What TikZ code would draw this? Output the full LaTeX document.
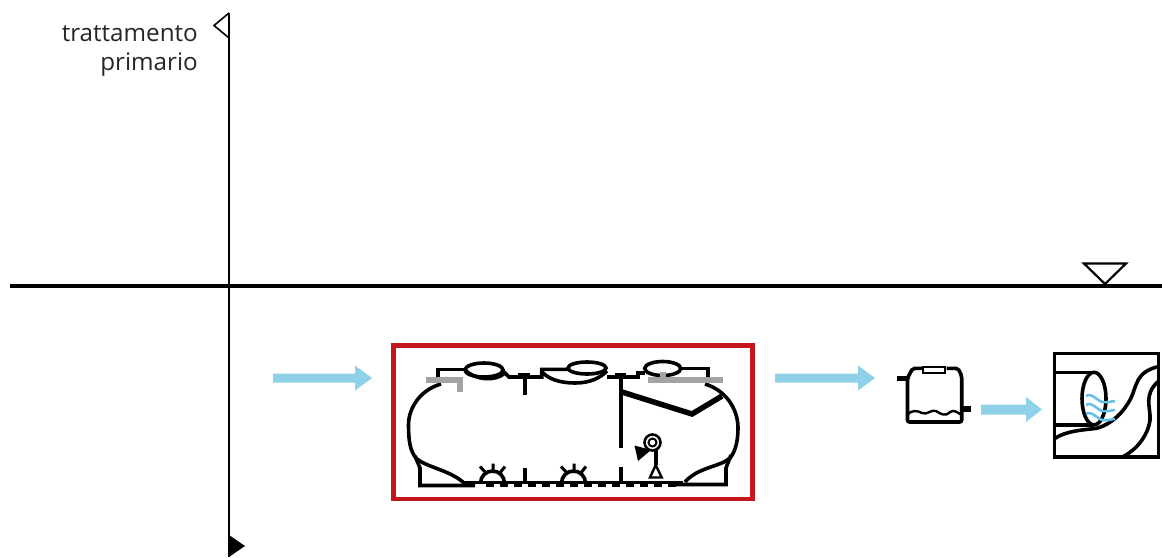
\documentclass[tikz,border=0pt]{standalone}
\usepackage{fontspec}
\setmainfont{Open Sans}
\usetikzlibrary{arrows.meta}
\definecolor{flow}{HTML}{8ED1E8}
\definecolor{rippleblue}{HTML}{62C0E4}
\definecolor{frame}{HTML}{C4161C}
\definecolor{steel}{HTML}{A3A3A3}
\tikzset{
  ink/.style={draw=black,line width=3.6pt,line join=miter},
  axis/.style={draw=black,line width=1.6pt},
  greybar/.style={draw=steel,line width=6pt},
  flowarrow/.style={fill=flow,draw=none},
  ripple/.style={draw=rippleblue,line width=2.5pt},
  label/.style={align=right,anchor=north east,inner sep=0pt,font=\fontsize{24.2}{29}\selectfont,text=black!85}
}
\newcommand{\flowshape}[5]{% x0 xneck xtip y halfthick
  \fill[flowarrow] (#1,#4-#5)--(#2,#4-#5)--(#2,#4-12.5)--(#3,#4)--(#2,#4+12.5)--(#2,#4+#5)--(#1,#4+#5)--cycle;}
\begin{document}
\begin{tikzpicture}[x=1pt,y=-1pt]
\useasboundingbox (0,0) rectangle (1162,557);
\fill[white] (0,0) rectangle (1162,557);
% axes
\draw[axis] (229,13)--(229,557);
\draw[axis,line join=miter] (229,13)--(214,25.5)--(229,38);
\fill[black] (229,535)--(245,546)--(229,557)--cycle;
\draw[draw=black,line width=3.2pt] (10,286)--(1162,286);
\draw[draw=black,line width=2.2pt] (1084,263.5)--(1126,263.5)--(1105,284)--cycle;
\node[label] (title) at (198,25) {trattamento\\primario};
% flow arrows
\flowshape{273}{355}{372}{378}{4.5}
\flowshape{775}{858}{875}{378}{4.5}
\flowshape{981}{1026}{1042}{409.5}{5}
% red frame
\draw[draw=frame,line width=4.5pt] (393.5,345.5) rectangle (752.5,499);
% tank
\draw[ink] (437.7,378)--(437.7,369.3)--(466,369.3);
\draw[ink] (484,370) ellipse (19 and 7);
\draw[ink] (465,370) .. controls (475,380) and (495,382) .. (505,373) -- (509,377) -- (541.7,377) -- (541.7,369.3) -- (568,369.3);
\draw[ink] (541.7,371.5) .. controls (548,379) and (560,383) .. (575,383) .. controls (590,383) and (600,378) .. (607,371);
\draw[ink] (587,368) ellipse (19 and 6);
\draw[ink] (607,377)--(638,377)--(638,373)--(645,373);
\draw[ink] (662.7,368.5) ellipse (18 and 7);
\draw[ink] (681,368.5)--(708,368.5)--(708,378);
% baffles
\fill[black] (518,373) rectangle (530,379);
\fill[black] (615,373) rectangle (626,379);
\draw[ink] (525,373)--(525,395);
\draw[ink] (525,468)--(525,484);
\draw[ink] (620.7,373)--(620.7,448);
\draw[ink] (620.7,467)--(620.7,484);
% shell
\draw[ink] (441,384) .. controls (420,390) and (408.5,408) .. (408.5,425) .. controls (408.5,440) and (410,451) .. (416,458) .. controls (425,467) and (450,470) .. (464,483);
\draw[ink] (415,456)--(420,468)--(420,485.5)--(475,485.5);
\draw[ink] (705,384) .. controls (725,390) and (738,408) .. (738,428) .. controls (738,442) and (735,452) .. (730,458) .. controls (720,467) and (698,467) .. (685,482);
\draw[ink] (731,455)--(726,468)--(726,484.5)--(670,484.5);
% bottom
\draw[ink] (462,482.5)--(683,482.5);
\draw[draw=black,line width=3pt,dash pattern=on 8pt off 6pt] (486,485.5)--(680,485.5);
% domes
\draw[ink] (480.5,483) arc (180:360:12);
\draw[ink] (561.5,483) arc (180:360:12);
\draw[draw=black,line width=3pt] (480,466.5)--(487,474) (493,463.5)--(493,473) (505,466.5)--(499,474);
\draw[draw=black,line width=3pt] (561,466.5)--(568,474) (574,463.5)--(574,473) (586,466.5)--(580,474);
% grey pieces
\draw[greybar] (425.7,380)--(463,380);
\draw[greybar] (460,380)--(460,392);
\draw[greybar] (648,380)--(723,380);
\draw[greybar] (663,372)--(663,379);
% thick slanted
\draw[draw=black,line width=5.5pt] (622,392)--(692,414)--(722,396);
% figure
\draw[draw=black,line width=2pt] (652.5,442.5) circle (4);
\draw[draw=black,line width=2.6pt] (652.5,442.5) circle (8);
\draw[ink] (655.7,450)--(655.7,465);
\draw[draw=black,line width=2.4pt] (655.7,465)--(650,477.5)--(661.7,477.5)--cycle;
\fill[black] (634.5,445.5)--(651,450)--(638,461)--cycle;
% small tank
\draw[ink,rounded corners=2pt] (922,368.3)--(912.7,368.3)--(907.5,378)--(907.5,422)--(961.7,422)--(961.7,376)--(958,368.3)--(946.7,368.3);
\draw[draw=black,line width=2.4pt] (923,366.7) rectangle (945,372.7);
\draw[draw=black,line width=5.5pt] (897.3,378.3)--(908,378.3);
\draw[draw=black,line width=5.5pt] (961.7,409)--(970.7,409);
\draw[draw=black,line width=2.4pt] (907.5,415) .. controls (912,409) and (918,411) .. (922,413) .. controls (927,415.5) and (931,409) .. (936,411) .. controls (941,414) and (945,417) .. (950,412) .. controls (954,409) and (958,413) .. (961.7,415);
% outfall box
\draw[ink] (1054.3,353.3) rectangle (1158.3,456.7);
\draw[ink] (1055,372.3)--(1094,372.3);
\draw[ink] (1055,425)--(1094,425);
\draw[ink] (1094,398.6) ellipse (12 and 26.3);
\draw[ink] (1055,438.3) .. controls (1066,431) and (1082,430) .. (1096.7,428.3) .. controls (1112,424) and (1124,412) .. (1131,398) .. controls (1137,385) and (1136,372) .. (1158,366.7);
\draw[ink] (1123,456.7) .. controls (1136,450) and (1148,436) .. (1150,420) .. controls (1151,408) and (1143,395) .. (1158,381.7);
% ripples
\foreach \dy in {0,9,18}{
\draw[ripple] (1086,396+\dy) .. controls (1092,392+\dy) and (1098,402+\dy) .. (1103,402+\dy) .. controls (1108,403+\dy) and (1112,401+\dy) .. (1115,401+\dy);
}
\end{tikzpicture}
\end{document}
